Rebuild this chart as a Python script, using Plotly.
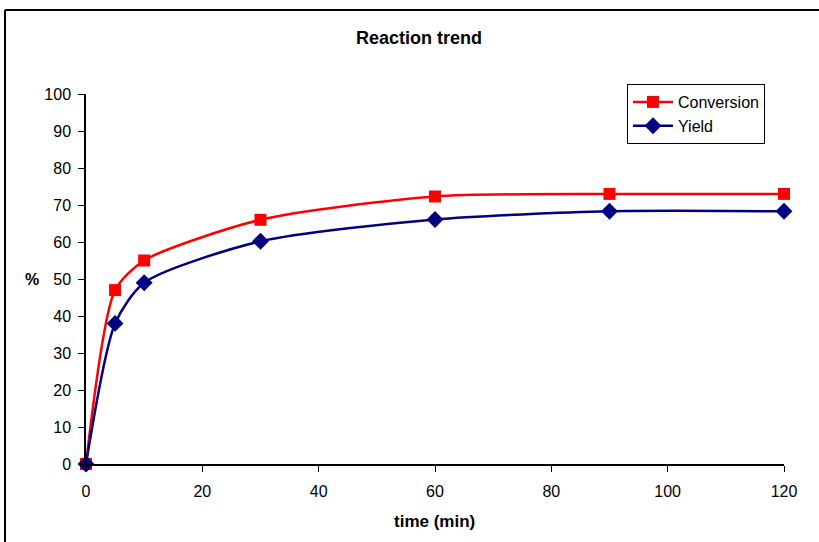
import plotly.graph_objects as go

# Reaction progress over time
time_min = [0, 5, 10, 30, 60, 90, 120]
conversion = [0, 47, 55, 66, 72.3, 73, 73]
yield_pct = [0, 38, 49, 60.2, 66.1, 68.3, 68.3]

x_ticks = [0, 20, 40, 60, 80, 100, 120]
y_ticks = list(range(0, 101, 10))

W, H = 819, 542
L, R, T, B = 86, 35, 94, 78
pw, ph = W - L - R, H - T - B

font_family = "Liberation Sans, Arial, sans-serif"

fig = go.Figure()
fig.add_trace(go.Scatter(
    x=time_min, y=conversion, name="Conversion",
    mode="lines+markers",
    line=dict(color="#FF0000", width=2.5, shape="spline", smoothing=0.7),
    marker=dict(symbol="square", size=12, color="#FF0000"),
    cliponaxis=False,
))
fig.add_trace(go.Scatter(
    x=time_min, y=yield_pct, name="Yield",
    mode="lines+markers",
    line=dict(color="#000080", width=2.5, shape="spline", smoothing=0.7),
    marker=dict(symbol="diamond", size=13, color="#000080"),
    cliponaxis=False,
))

# outer chart frame (left and top edges visible)
fx0 = (5 - L) / pw
fy1 = 1 + (T - 10) / ph
shapes = [
    dict(type="line", xref="paper", yref="paper", x0=fx0, x1=fx0, y0=-1, y1=fy1,
         line=dict(color="black", width=2)),
    dict(type="line", xref="paper", yref="paper", x0=fx0, x1=2, y0=fy1, y1=fy1,
         line=dict(color="black", width=2)),
]

def px_x(p):
    return (p - L) / pw

def px_y(p):
    return (H - B - p) / ph

annotations = [
    dict(text="<b>Reaction trend</b>", x=px_x(419), y=px_y(38), xref="paper", yref="paper",
         xanchor="center", yanchor="middle", showarrow=False,
         font=dict(size=18, family=font_family)),
    dict(text="<b>time (min)</b>", x=px_x(434), y=px_y(521), xref="paper", yref="paper",
         xanchor="center", yanchor="middle", showarrow=False,
         font=dict(size=17, family=font_family)),
    dict(text="<b>%</b>", x=px_x(32), y=px_y(279), xref="paper", yref="paper",
         xanchor="center", yanchor="middle", showarrow=False,
         font=dict(size=16, family=font_family)),
]

fig.update_layout(
    width=W, height=H,
    margin=dict(l=L, r=R, t=T, b=B),
    paper_bgcolor="white", plot_bgcolor="white",
    font=dict(family=font_family, color="black", size=16),
    showlegend=True,
    legend=dict(x=px_x(627), y=px_y(84), xanchor="left", yanchor="top",
                bordercolor="black", borderwidth=1, bgcolor="white",
                font=dict(size=16, family=font_family),
                itemwidth=40, tracegroupgap=0),
    shapes=shapes,
    annotations=annotations,
    xaxis=dict(range=[0, 120], tickvals=x_ticks, ticktext=[str(v) for v in x_ticks],
               showgrid=False, zeroline=False, showline=True, linecolor="black",
               linewidth=1.5, ticks="outside", ticklen=6, tickcolor="black",
               tickfont=dict(size=16), fixedrange=True, ticklabelstandoff=6),
    yaxis=dict(range=[0, 100], tickvals=y_ticks, ticktext=[str(v) for v in y_ticks],
               showgrid=False, zeroline=False, showline=True, linecolor="black",
               linewidth=1.5, ticks="outside", ticklen=6, tickcolor="black",
               tickfont=dict(size=16), fixedrange=True, ticklabelstandoff=4),
)

fig.write_html("out.html")
